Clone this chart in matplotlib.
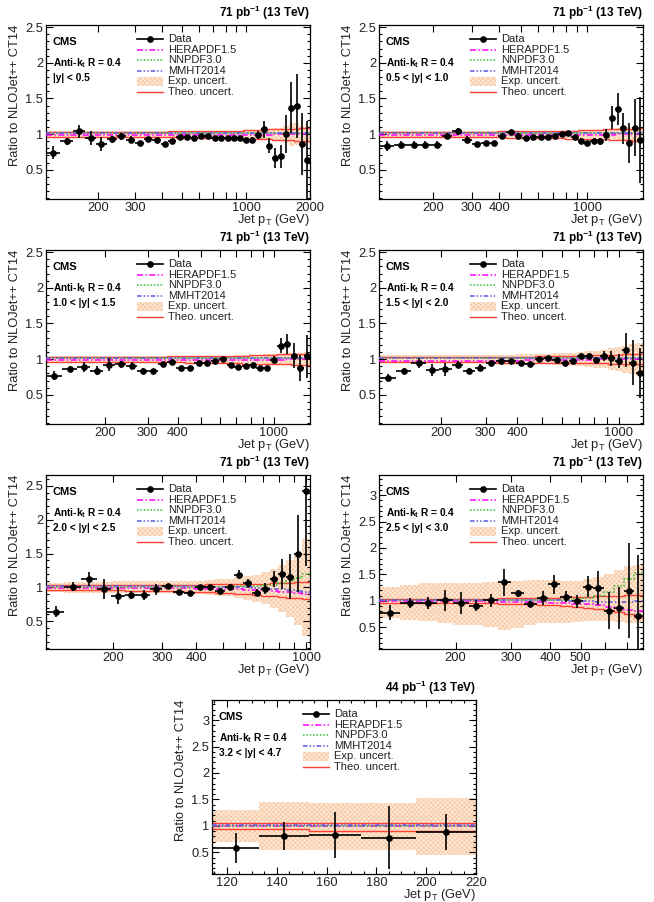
import matplotlib
matplotlib.use("Agg")
import matplotlib.pyplot as plt
from matplotlib.patches import Rectangle
from matplotlib.lines import Line2D
from matplotlib.ticker import FixedLocator, FuncFormatter, MultipleLocator, NullLocator
import numpy as np

plt.rcParams['font.family'] = ['Liberation Sans', 'DejaVu Sans']
plt.rcParams['mathtext.fontset'] = 'custom'
plt.rcParams['mathtext.rm'] = 'Liberation Sans'
plt.rcParams['mathtext.it'] = 'Liberation Sans:italic'
plt.rcParams['mathtext.bf'] = 'Liberation Sans:bold'
plt.rcParams['hatch.linewidth'] = 0.45

# ---------------- data ----------------
edges_all = [114, 133, 153, 174, 196, 220, 245, 272, 300, 330, 362, 395, 430, 468, 507, 548,
             592, 638, 686, 737, 790, 846, 905, 967, 1032, 1101, 1172, 1248, 1327, 1410, 1497,
             1588, 1684, 1784, 1890, 2000]

titles = ["|y| < 0.5", "0.5 < |y| < 1.0", "1.0 < |y| < 1.5", "1.5 < |y| < 2.0",
          "2.0 < |y| < 2.5", "2.5 < |y| < 3.0", "3.2 < |y| < 4.7"]
lumis = ["71", "71", "71", "71", "71", "71", "44"]
nbins = [35, 33, 29, 27, 24, 20, 5]

# panel 1
d1 = [0.74,0.90,1.04,0.95,0.86,0.93,0.97,0.92,0.87,0.93,0.92,0.86,0.91,0.96,0.96,0.94,0.97,0.97,0.95,0.95,
      0.95,0.95,0.95,0.92,0.92,0.99,1.07,0.84,0.67,0.69,1.00,1.37,1.39,0.86,0.63]
e1 = [0.09,0.05,0.09,0.10,0.10,0.05,0.05,0.05,0.02,0.03,0.03,0.02,0.02,0.02,0.02,0.02,0.02,0.02,0.02,0.02,
      0.02,0.02,0.03,0.03,0.04,0.06,0.12,0.10,0.14,0.16,0.27,0.36,0.45,0.43,0.55]
xu1 = [0.05,0.05,0.05,0.05,0.05,0.05,0.045,0.045,0.045,0.045,0.045,0.045,0.045,0.045,0.045,0.045,0.045,0.045,
       0.045,0.05,0.05,0.05,0.05,0.05,0.05,0.06,0.07,0.07,0.08,0.09,0.12,0.16,0.15,0.12,0.12]
xd1 = xu1
th1 = [1.035,1.035,1.035,1.035,1.035,1.035,1.035,1.035,1.035,1.035,1.035,1.035,1.04,1.04,1.04,1.04,1.04,1.045,
       1.045,1.045,1.05,1.05,1.05,1.055,1.055,1.06,1.06,1.065,1.065,1.07,1.07,1.075,1.075,1.08,1.08]
tl1 = [0.96,0.96,0.96,0.96,0.96,0.96,0.96,0.96,0.955,0.955,0.955,0.955,0.955,0.95,0.95,0.95,0.95,0.945,0.945,
       0.94,0.94,0.935,0.935,0.93,0.93,0.93,0.925,0.925,0.92,0.92,0.915,0.915,0.91,0.91,0.91]
he1 = [0.99,0.99,0.99,0.99,0.99,0.99,0.99,0.99,0.99,0.99,0.99,0.99,0.985,0.985,0.985,0.985,0.985,0.985,0.985,
       0.985,0.985,0.985,0.985,0.99,0.99,0.99,0.99,0.99,0.995,0.995,0.995,1.0,1.0,1.0,1.0]
nn1 = [1.01,1.01,1.01,1.01,1.01,1.01,1.01,1.01,1.01,1.01,1.01,1.01,1.01,1.01,1.01,1.01,1.01,1.01,1.01,1.01,
       1.01,1.01,1.01,1.01,1.01,1.01,1.01,1.01,1.01,1.01,1.01,1.01,1.01,1.01,1.01]
mm1 = [1.02,1.02,1.02,1.02,1.02,1.02,1.02,1.02,1.02,1.02,1.02,1.02,1.02,1.02,1.02,1.02,1.02,1.02,1.02,1.02,
       1.02,1.02,1.02,1.02,1.02,1.02,1.02,1.02,1.02,1.02,1.02,1.02,1.02,1.02,1.02]

# panel 2
d2 = [0.83,0.85,0.85,0.85,0.85,0.98,1.04,0.92,0.86,0.87,0.87,0.97,1.03,0.97,0.95,0.96,0.96,0.96,0.97,1.00,
      1.02,0.96,0.91,0.88,0.90,0.90,0.99,1.23,1.35,1.08,0.88,1.09,0.92]
e2 = [0.07,0.05,0.05,0.05,0.05,0.04,0.05,0.05,0.02,0.02,0.02,0.03,0.02,0.02,0.02,0.02,0.02,0.02,0.02,0.02,
      0.02,0.02,0.03,0.03,0.04,0.05,0.08,0.16,0.22,0.22,0.28,0.40,0.60]
xu2 = [0.05,0.05,0.05,0.05,0.05,0.045,0.045,0.045,0.045,0.045,0.045,0.045,0.045,0.045,0.045,0.045,0.045,0.045,
       0.045,0.045,0.05,0.05,0.05,0.05,0.05,0.055,0.06,0.07,0.08,0.09,0.10,0.10,0.10]
xd2 = xu2
th2 = [1.035,1.035,1.035,1.035,1.035,1.035,1.035,1.035,1.035,1.035,1.035,1.04,1.04,1.04,1.04,1.04,1.045,1.045,
       1.045,1.05,1.05,1.05,1.055,1.055,1.06,1.06,1.065,1.065,1.07,1.07,1.075,1.075,1.08]
tl2 = [0.96,0.96,0.96,0.96,0.96,0.96,0.96,0.955,0.955,0.955,0.955,0.955,0.95,0.95,0.95,0.95,0.945,0.945,0.94,
       0.94,0.935,0.935,0.93,0.93,0.93,0.925,0.925,0.92,0.92,0.915,0.915,0.91,0.91]
he2 = [0.99,0.99,0.99,0.99,0.99,0.99,0.99,0.99,0.99,0.99,0.985,0.985,0.985,0.985,0.985,0.985,0.985,0.985,0.985,
       0.985,0.985,0.985,0.99,0.99,0.99,0.99,0.99,0.99,0.995,0.995,1.0,1.0,1.0]
nn2 = [1.01,1.01,1.01,1.01,1.01,1.01,1.01,1.01,1.01,1.01,1.01,1.01,1.01,1.01,1.01,1.01,1.01,1.01,1.01,1.01,
       1.01,1.01,1.01,1.01,1.01,1.01,1.01,1.01,1.01,1.01,1.01,1.01,1.01]
mm2 = [1.02,1.02,1.02,1.02,1.02,1.02,1.02,1.02,1.02,1.02,1.02,1.02,1.02,1.02,1.02,1.02,1.02,1.02,1.02,1.02,
       1.02,1.02,1.02,1.02,1.02,1.02,1.02,1.02,1.02,1.02,1.02,1.02,1.02]

# panel 3
d3 = [0.77,0.86,0.89,0.84,0.92,0.93,0.91,0.84,0.84,0.93,0.96,0.88,0.88,0.95,0.94,0.97,1.00,0.92,0.89,0.91,
      0.92,0.88,0.88,0.99,1.19,1.21,1.05,0.88,1.04]
e3 = [0.06,0.04,0.07,0.06,0.09,0.05,0.05,0.03,0.02,0.02,0.02,0.02,0.02,0.02,0.02,0.02,0.02,0.02,0.02,0.02,
      0.02,0.03,0.03,0.05,0.11,0.14,0.17,0.18,0.30]
xu3 = [0.05,0.05,0.05,0.05,0.05,0.05,0.05,0.05,0.05,0.05,0.05,0.05,0.05,0.05,0.05,0.05,0.05,0.05,0.055,0.055,
       0.06,0.06,0.065,0.07,0.075,0.08,0.09,0.09,0.10]
xd3 = xu3
th3 = [1.035,1.035,1.035,1.035,1.035,1.035,1.035,1.035,1.035,1.035,1.04,1.04,1.04,1.04,1.045,1.045,1.045,1.05,
       1.05,1.05,1.055,1.055,1.06,1.06,1.065,1.065,1.07,1.07,1.075]
tl3 = [0.965,0.965,0.965,0.965,0.96,0.96,0.96,0.96,0.955,0.955,0.955,0.955,0.95,0.95,0.95,0.945,0.945,0.94,
       0.94,0.935,0.935,0.93,0.93,0.93,0.925,0.925,0.92,0.92,0.92]
he3 = [0.99,0.99,0.99,0.99,0.99,0.99,0.99,0.99,0.985,0.985,0.985,0.985,0.985,0.985,0.985,0.985,0.985,0.985,
       0.985,0.985,0.99,0.99,0.99,0.99,0.99,0.995,0.995,1.0,1.0]
nn3 = [1.01,1.01,1.01,1.01,1.01,1.01,1.01,1.01,1.01,1.01,1.01,1.01,1.01,1.01,1.01,1.01,1.01,1.01,1.01,1.01,
       1.01,1.01,1.01,1.01,1.01,1.01,1.01,1.01,1.01]
mm3 = [1.02,1.02,1.02,1.02,1.02,1.02,1.02,1.02,1.02,1.02,1.02,1.02,1.02,1.02,1.02,1.02,1.02,1.02,1.02,1.02,
       1.02,1.02,1.02,1.02,1.02,1.02,1.02,1.02,1.02]

# panel 4
d4 = [0.74,0.84,0.94,0.85,0.86,0.92,0.84,0.88,0.95,0.97,0.98,0.94,0.93,1.00,1.01,0.99,0.94,0.98,1.04,1.05,
      0.99,1.04,1.01,0.97,1.13,0.95,0.81]
e4 = [0.05,0.04,0.07,0.08,0.09,0.05,0.04,0.05,0.02,0.02,0.02,0.02,0.02,0.02,0.02,0.02,0.02,0.02,0.03,0.04,
      0.04,0.07,0.10,0.10,0.24,0.32,0.35]
xu4 = [0.06,0.06,0.06,0.06,0.06,0.06,0.06,0.06,0.06,0.06,0.06,0.065,0.07,0.07,0.075,0.08,0.085,0.09,0.10,0.11,
       0.12,0.13,0.15,0.17,0.19,0.21,0.23]
xd4 = xu4
th4 = [1.03,1.03,1.03,1.03,1.03,1.03,1.03,1.03,1.03,1.035,1.035,1.035,1.035,1.04,1.04,1.04,1.045,1.045,1.05,
       1.05,1.055,1.055,1.06,1.06,1.065,1.07,1.075]
tl4 = [0.955,0.955,0.955,0.955,0.955,0.955,0.955,0.955,0.955,0.95,0.95,0.95,0.95,0.95,0.945,0.945,0.945,0.945,
       0.94,0.94,0.94,0.94,0.935,0.935,0.935,0.93,0.93]
he4 = [0.98,0.98,0.98,0.98,0.98,0.98,0.98,0.98,0.98,0.98,0.98,0.98,0.985,0.985,0.985,0.985,0.99,0.99,0.99,
       0.99,0.995,0.995,0.995,1.0,1.0,1.0,1.0]
nn4 = [1.01,1.01,1.01,1.01,1.01,1.01,1.01,1.01,1.01,1.01,1.01,1.01,1.01,1.01,1.01,1.01,1.01,1.01,1.01,1.01,
       1.01,1.01,1.01,1.01,1.01,1.01,1.01]
mm4 = [1.02,1.02,1.02,1.02,1.02,1.02,1.02,1.02,1.02,1.02,1.02,1.02,1.02,1.02,1.02,1.02,1.02,1.02,1.02,1.02,
       1.02,1.02,1.02,1.02,1.02,1.02,1.02]

# panel 5
d5 = [0.64,1.01,1.12,0.98,0.88,0.89,0.89,0.97,1.02,0.93,0.92,1.00,1.00,0.95,1.01,1.19,1.06,0.92,0.98,1.12,
      1.20,1.16,1.50,2.42]
e5 = [0.08,0.07,0.10,0.15,0.12,0.06,0.07,0.08,0.03,0.03,0.03,0.03,0.03,0.04,0.04,0.06,0.07,0.05,0.08,0.12,
      0.22,0.33,0.57,1.10]
xu5 = [0.07,0.08,0.08,0.08,0.09,0.09,0.09,0.09,0.09,0.10,0.10,0.10,0.11,0.12,0.13,0.15,0.17,0.19,0.22,0.27,
       0.33,0.40,0.50,0.72]
xd5 = [0.07,0.08,0.08,0.08,0.09,0.09,0.09,0.09,0.09,0.10,0.10,0.10,0.11,0.12,0.13,0.15,0.18,0.21,0.25,0.30,
       0.36,0.44,0.55,0.72]
th5 = [1.035,1.035,1.035,1.035,1.035,1.035,1.035,1.035,1.04,1.04,1.04,1.04,1.045,1.045,1.045,1.05,1.05,1.055,
       1.055,1.06,1.065,1.07,1.075,1.08]
tl5 = [0.955,0.955,0.955,0.955,0.955,0.95,0.95,0.95,0.945,0.94,0.935,0.93,0.925,0.92,0.91,0.905,0.90,0.89,
       0.88,0.87,0.86,0.85,0.84,0.83]
he5 = [0.99,0.99,0.99,0.99,0.99,0.99,0.99,0.99,0.985,0.985,0.985,0.98,0.98,0.98,0.975,0.97,0.965,0.96,0.955,
       0.945,0.935,0.925,0.915,0.90]
nn5 = [1.01,1.01,1.01,1.01,1.01,1.01,1.01,1.01,1.01,1.01,1.01,1.01,1.01,1.01,1.01,1.015,1.015,1.02,1.03,1.04,
       1.06,1.09,1.14,1.20]
mm5 = [1.02,1.02,1.02,1.02,1.02,1.02,1.02,1.02,1.02,1.02,1.015,1.015,1.01,1.01,1.005,1.0,1.0,0.995,0.99,0.98,
       0.97,0.96,0.95,0.93]

# panel 6
d6 = [0.78,0.96,0.96,1.01,0.96,0.91,1.01,1.35,1.14,0.94,1.05,1.31,1.08,0.99,1.27,1.24,0.81,0.87,1.19,0.72]
e6 = [0.15,0.10,0.12,0.20,0.20,0.10,0.12,0.25,0.06,0.05,0.13,0.18,0.10,0.12,0.20,0.32,0.35,0.40,0.90,1.15]
xu6 = [0.26,0.30,0.33,0.33,0.33,0.34,0.36,0.36,0.38,0.40,0.40,0.40,0.38,0.38,0.42,0.46,0.50,0.58,0.65,0.68]
xd6 = [0.33,0.36,0.39,0.42,0.45,0.45,0.50,0.55,0.52,0.45,0.42,0.42,0.42,0.40,0.38,0.38,0.38,0.40,0.42,0.42]
th6 = [1.035,1.035,1.035,1.035,1.035,1.04,1.04,1.045,1.05,1.05,1.055,1.06,1.065,1.07,1.075,1.085,1.095,1.10,
       1.11,1.12]
tl6 = [0.965,0.965,0.965,0.96,0.96,0.96,0.955,0.95,0.945,0.94,0.93,0.92,0.91,0.89,0.87,0.85,0.82,0.79,0.75,
       0.69]
he6 = [0.99,0.99,0.99,0.99,0.99,0.99,0.985,0.985,0.98,0.975,0.97,0.965,0.96,0.95,0.94,0.92,0.89,0.86,0.83,0.80]
nn6 = [1.01,1.01,1.01,1.01,1.01,1.01,1.01,1.01,1.01,1.015,1.015,1.02,1.02,1.03,1.05,1.10,1.17,1.28,1.42,1.52]
mm6 = [1.02,1.02,1.02,1.02,1.02,1.02,1.02,1.02,1.015,1.015,1.01,1.01,1.0,1.0,0.99,0.98,0.97,0.97,0.98,1.0]

# panel 7
d7 = [0.58, 0.81, 0.83, 0.78, 0.88]
e7 = [0.29, 0.27, 0.43, 0.60, 0.34]
xu7 = [0.30, 0.45, 0.43, 0.43, 0.52]
xd7 = [0.31, 0.45, 0.45, 0.46, 0.55]
th7 = [1.045, 1.045, 1.05, 1.05, 1.05]
tl7 = [0.94, 0.94, 0.90, 0.90, 0.90]
he7 = [0.995, 0.995, 0.995, 0.995, 0.995]
nn7 = [1.0, 1.0, 1.0, 1.0, 1.0]
mm7 = [1.01, 1.01, 1.01, 1.01, 1.01]

data_vals = [d1, d2, d3, d4, d5, d6, d7]
data_errs = [e1, e2, e3, e4, e5, e6, e7]
exp_up = [xu1, xu2, xu3, xu4, xu5, xu6, xu7]
exp_dn = [xd1, xd2, xd3, xd4, xd5, xd6, xd7]
theo_hi = [th1, th2, th3, th4, th5, th6, th7]
theo_lo = [tl1, tl2, tl3, tl4, tl5, tl6, tl7]
hera = [he1, he2, he3, he4, he5, he6, he7]
nnpdf = [nn1, nn2, nn3, nn4, nn5, nn6, nn7]
mmht = [mm1, mm2, mm3, mm4, mm5, mm6, mm7]

xtick_labels = [[200, 300, 1000, 2000], [200, 300, 400, 1000], [200, 300, 400, 1000],
                [200, 300, 400, 1000], [200, 300, 400, 1000], [200, 300, 400, 500], None]
ylims = [(0.09, 2.53), (0.09, 2.53), (0.09, 2.53), (0.09, 2.53), (0.09, 2.66), (0.09, 3.38), (0.09, 3.38)]

# ---------------- layout (pixels) ----------------
W, H = 654, 902
rects = [(46, 25, 310, 199), (379, 25, 643, 199), (46, 250, 310, 424), (379, 250, 643, 424),
         (46, 475, 310, 649), (379, 475, 643, 649), (212, 700, 476, 874)]

RED = '#ff4035'
MAG = '#ff00ff'
GRN = '#33bb33'
BLU = '#5a5ae0'
HATCH_EC = '#f7c39a'
HATCH_FC = '#fde7d5'
ls_hera = (0, (4, 1.5, 1, 1.5))
ls_nn = (0, (1, 1.2))
ls_mm = (0, (3, 1.3, 1, 1.3, 1, 1.3))
MS = 3.8

fig = plt.figure(figsize=(W / 100, H / 100), dpi=100)

for i in range(7):
    l, t, r, b = rects[i]
    ax = fig.add_axes([l / W, 1 - b / H, (r - l) / W, (b - t) / H])
    n = nbins[i]
    edges = np.array(edges_all[:n + 1], dtype=float)
    centers = 0.5 * (edges[:-1] + edges[1:])
    vals = np.array(data_vals[i])
    errs = np.array(data_errs[i])
    up = 1 + np.array(exp_up[i])
    dn = 1 - np.array(exp_dn[i])

    ax.stairs(up, edges, baseline=dn, fill=True, facecolor=HATCH_FC, edgecolor=HATCH_EC,
              hatch='xxxxxxx', linewidth=0, zorder=1)
    ax.stairs(theo_hi[i], edges, baseline=None, color=RED, lw=1.0, zorder=2)
    ax.stairs(theo_lo[i], edges, baseline=None, color=RED, lw=1.0, zorder=2)
    ax.stairs(hera[i], edges, baseline=None, color=MAG, lw=1.1, ls=ls_hera, zorder=3)
    ax.stairs(nnpdf[i], edges, baseline=None, color=GRN, lw=1.1, ls=ls_nn, zorder=3)
    ax.stairs(mmht[i], edges, baseline=None, color=BLU, lw=1.1, ls=ls_mm, zorder=3)

    ax.errorbar(centers, vals, yerr=errs, xerr=[centers - edges[:-1], edges[1:] - centers],
                fmt='o', color='black', ms=MS, elinewidth=1.2, capsize=0, zorder=5)

    ax.set_xlim(edges[0], edges[-1])
    ax.set_ylim(*ylims[i])

    if i < 6:
        ax.set_xscale('log')
        majors = [100, 200, 300, 400, 500, 600, 700, 800, 900, 1000, 2000]
        labs = xtick_labels[i]
        ax.xaxis.set_major_locator(FixedLocator(majors))
        ax.xaxis.set_major_formatter(FuncFormatter(lambda v, p, labs=labs: ('%d' % round(v)) if round(v) in labs else ''))
        ax.xaxis.set_minor_locator(NullLocator())
    else:
        ax.xaxis.set_major_locator(MultipleLocator(20))
        ax.xaxis.set_minor_locator(MultipleLocator(5))
        ax.xaxis.set_major_formatter(FuncFormatter(lambda v, p: '%d' % round(v)))

    ax.yaxis.set_major_locator(MultipleLocator(0.5))
    ax.yaxis.set_minor_locator(MultipleLocator(0.1))
    ax.yaxis.set_major_formatter(FuncFormatter(lambda v, p: '%g' % v))

    ax.tick_params(which='both', direction='in', top=True, right=True, labelsize=9.3, colors='black',
                   labelcolor='#222222')
    ax.tick_params(which='major', length=5, width=0.8)
    ax.tick_params(which='minor', length=2.5, width=0.8)
    ax.tick_params(axis='x', pad=2)
    ax.tick_params(axis='y', pad=2)
    for s in ax.spines.values():
        s.set_linewidth(0.9)

    ax.set_ylabel('Ratio to NLOJet++ CT14', fontsize=9.3, loc='top', color='#222222')
    ax.yaxis.set_label_coords(-0.095, 1.0)
    ax.set_xlabel(r'Jet p$_{\mathrm{T}}$ (GeV)', fontsize=9.3, loc='right', color='#222222')
    ax.xaxis.set_label_coords(1.0, -0.075)

    ax.text(1.0, 1.02, lumis[i] + r' pb$^{\mathbf{-1}}$ (13 TeV)', transform=ax.transAxes,
            ha='right', va='bottom', fontsize=8.5, fontweight='bold')
    ax.text(0.025, 0.90, 'CMS', transform=ax.transAxes, ha='left', va='center',
            fontsize=8, fontweight='bold')
    ax.text(0.025, 0.78, r'Anti-k$_{\mathbf{t}}$ R = 0.4', transform=ax.transAxes, ha='left', va='center',
            fontsize=7.3, fontweight='bold')
    ax.text(0.025, 0.695, titles[i], transform=ax.transAxes, ha='left', va='center',
            fontsize=7.3, fontweight='bold')

    # legend (drawn in axes coordinates)
    lx0, lx1, tx = 0.345, 0.445, 0.462
    y0, dy = 0.918, 0.0602
    names = ['Data', 'HERAPDF1.5', 'NNPDF3.0', 'MMHT2014', 'Exp. uncert.', 'Theo. uncert.']
    for k, name in enumerate(names):
        yy = y0 - k * dy
        if k == 0:
            ax.add_line(Line2D([lx0, lx1], [yy, yy], color='black', lw=1.2, transform=ax.transAxes))
            ax.add_line(Line2D([(lx0 + lx1) / 2], [yy], marker='o', ms=MS, color='black', transform=ax.transAxes))
        elif k == 1:
            ax.add_line(Line2D([lx0, lx1], [yy, yy], color=MAG, lw=1.1, ls=ls_hera, transform=ax.transAxes))
        elif k == 2:
            ax.add_line(Line2D([lx0, lx1], [yy, yy], color=GRN, lw=1.1, ls=ls_nn, transform=ax.transAxes))
        elif k == 3:
            ax.add_line(Line2D([lx0, lx1], [yy, yy], color=BLU, lw=1.1, ls=ls_mm, transform=ax.transAxes))
        elif k == 4:
            ax.add_patch(Rectangle((lx0, yy - 0.025), lx1 - lx0, 0.05, transform=ax.transAxes,
                                   facecolor=HATCH_FC, edgecolor=HATCH_EC, hatch='xxxxxxx', lw=0))
        else:
            ax.add_line(Line2D([lx0, lx1], [yy, yy], color=RED, lw=1.0, transform=ax.transAxes))
        ax.text(tx, yy, name, transform=ax.transAxes, ha='left', va='center', fontsize=8.0,
                color='#222222')

fig.savefig('out.png', dpi=100)
